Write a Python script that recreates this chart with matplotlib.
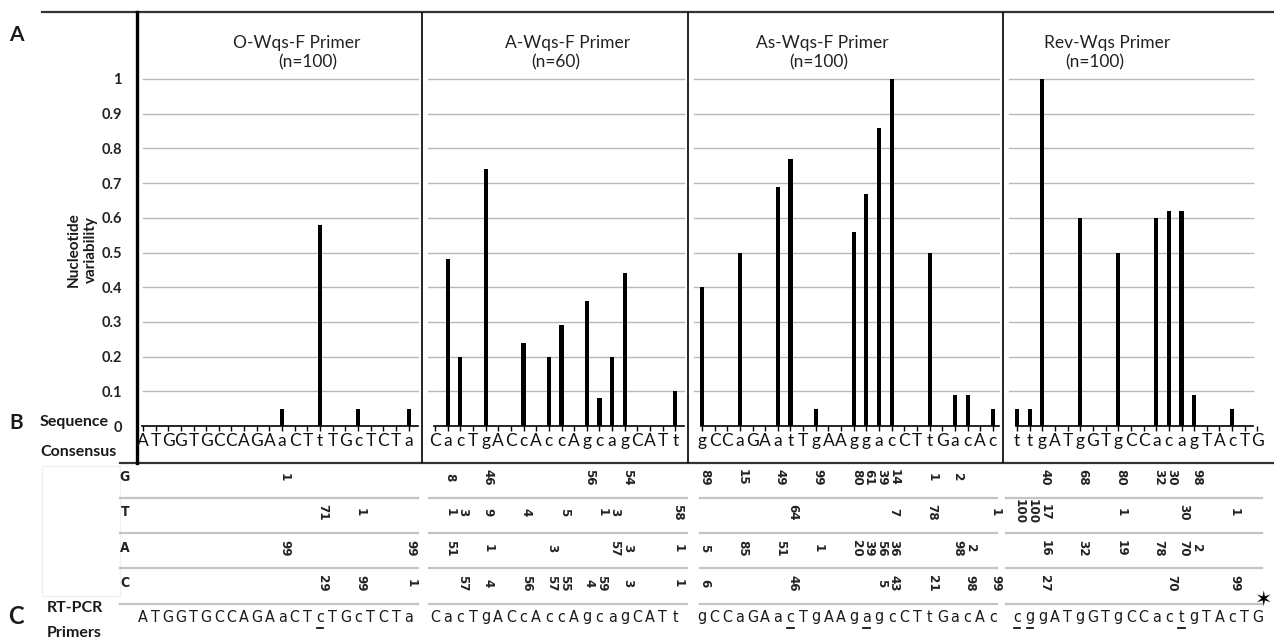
import matplotlib
matplotlib.use("Agg")
import matplotlib.pyplot as plt
from matplotlib import font_manager
from matplotlib.transforms import blended_transform_factory
from matplotlib.patches import Rectangle

# ---------------- data ----------------
panel_names = ["O-Wqs-F Primer", "A-Wqs-F Primer", "As-Wqs-F Primer", "Rev-Wqs Primer"]
panel_n = [100, 60, 100, 100]

consensus = ["ATGGTGCCAGAaCTtTGcTCTa",
             "CacTgACcAccAgcagCATt",
             "gCCaGAatTgAAggacCTtGacAc",
             "ttgATgGTgCCacagTAcTG"]

primers = ["ATGGTGCCAGAaCTcTGcTCTa",
           "CacTgACcAccAgcagCATt",
           "gCCaGAacTgAAgagcCTtGacAc",
           "cggATgGTgCCactgTAcTG"]
primer_underlined = [[14], [], [7, 13], [0, 1, 13]]

var_O = [0, 0, 0, 0, 0, 0, 0, 0, 0, 0, 0, 0.05, 0, 0, 0.58, 0, 0, 0.05, 0, 0, 0, 0.05]
var_A = [0, 0.48, 0.20, 0, 0.74, 0, 0, 0.24, 0, 0.20, 0.29, 0, 0.36, 0.08, 0.20, 0.44, 0, 0, 0, 0.10]
var_As = [0.40, 0, 0, 0.50, 0, 0, 0.69, 0.77, 0, 0.05, 0, 0, 0.56, 0.67, 0.86, 1.00,
          0, 0, 0.50, 0, 0.09, 0.09, 0, 0.05]
var_Rev = [0.05, 0.05, 1.00, 0, 0, 0.60, 0, 0, 0.50, 0, 0, 0.60, 0.62, 0.62, 0.09, 0, 0, 0.05, 0, 0]
variability = [var_O, var_A, var_As, var_Rev]

nucleotides = ["G", "T", "A", "C"]
counts_O = {"G": {12: 1}, "T": {15: 71, 18: 1}, "A": {12: 99, 22: 99}, "C": {15: 29, 18: 99, 22: 1}}
counts_A = {"G": {2: 8, 5: 46, 13: 56, 16: 54},
            "T": {2: 1, 3: 3, 5: 9, 8: 4, 11: 5, 14: 1, 15: 3, 20: 58},
            "A": {2: 51, 5: 1, 10: 3, 15: 57, 16: 3, 20: 1},
            "C": {3: 57, 5: 4, 8: 56, 10: 57, 11: 55, 13: 4, 14: 59, 16: 3, 20: 1}}
counts_As = {"G": {1: 89, 4: 15, 7: 49, 10: 99, 13: 80, 14: 61, 15: 39, 16: 14, 19: 1, 21: 2},
             "T": {8: 64, 16: 7, 19: 78, 24: 1},
             "A": {1: 5, 4: 85, 7: 51, 10: 1, 13: 20, 14: 39, 15: 56, 16: 36, 21: 98, 22: 2},
             "C": {1: 6, 8: 46, 15: 5, 16: 43, 19: 21, 22: 98, 24: 99}}
counts_Rev = {"G": {3: 40, 6: 68, 9: 80, 12: 32, 13: 30, 15: 98},
              "T": {1: 100, 2: 100, 3: 17, 9: 1, 14: 30, 18: 1},
              "A": {3: 16, 6: 32, 9: 19, 12: 78, 14: 70, 15: 2},
              "C": {3: 27, 13: 70, 18: 99}}
counts = [counts_O, counts_A, counts_As, counts_Rev]
y_ticks = [0, 0.1, 0.2, 0.3, 0.4, 0.5, 0.6, 0.7, 0.8, 0.9, 1]
y_ticklabels = ["0", "0.1", "0.2", "0.3", "0.4", "0.5", "0.6", "0.7", "0.8", "0.9", "1"]

# ---------------- fonts ----------------
names = {f.name for f in font_manager.fontManager.ttflist}
MAIN = "Lato" if "Lato" in names else "DejaVu Sans"
if "Liberation Sans Narrow" in names:
    NARROW = dict(family="Liberation Sans Narrow")
else:
    NARROW = dict(family="DejaVu Sans", fontstretch="condensed")
plt.rcParams["font.family"] = [MAIN, "DejaVu Sans"]

# ---------------- layout ----------------
W, H = 1274, 639
UNIT = 12.65          # pixels per nucleotide
X0 = 137              # pixel x of y-axis
Y0 = 426              # pixel y of value 0
PPU = 347             # pixels per 1.0 variability
TOP, BOT = 12, 463

fig = plt.figure(figsize=(W / 100, H / 100), dpi=100)
ov = fig.add_axes([0, 0, 1, 1], zorder=0)
ov.set_xlim(0, W)
ov.set_ylim(H, 0)
ov.axis("off")

ax = fig.add_axes([X0 / W, 1 - BOT / H, (W - X0) / W, (BOT - TOP) / H], zorder=1)
ax.set_facecolor("none")
ax.set_xlim(0, (W - X0) / UNIT)
ax.set_ylim(-(BOT - Y0) / PPU, (Y0 - TOP) / PPU)
for s in ["top", "right", "bottom"]:
    ax.spines[s].set_visible(False)
ax.spines["left"].set_linewidth(2.4)
ax.set_xticks([])
ax.set_yticks(y_ticks)
ax.set_yticklabels(y_ticklabels, fontsize=10.5, color="#222222", fontweight="bold")
ax.tick_params(axis="y", length=0, pad=11)

panel_left = [0, 22.53, 43.56, 68.46]
panel_right = [22.53, 43.56, 68.46, 88.6]
first_off = [0.47, 1.03, 1.10, 1.11]
title_cx = [297, 568, 822, 1107]
n_cx = [308, 556, 819, 1095]

bt = blended_transform_factory(ax.transData, ov.transData)

# separators
for xl in panel_left[1:]:
    ax.axvline(xl, color="black", lw=1.2, zorder=3)

row_y = [477, 512, 548, 583]
sep_y = [498, 533, 568, 604]
sep_px = [(120, 418), (429, 687), (700, 997), (1006, 1262)]

for k in range(4):
    xs = [panel_left[k] + first_off[k] + i for i in range(len(consensus[k]))]
    gl = panel_left[k] + 0.45
    gr = panel_right[k] - 0.35
    for yv in y_ticks[1:]:
        ax.plot([gl, gr], [yv, yv], color="#b8b8b8", lw=1.0, zorder=1)
    # baseline + ticks
    ax.plot([xs[0] - 0.05, gr], [0, 0], color="black", lw=1.2, zorder=2)
    ax.vlines(xs, -5 / PPU, 0, color="black", lw=1.0, zorder=2)
    # bars
    ax.bar(xs, variability[k], width=0.33, color="black", zorder=3)
    # consensus letters
    for x, ch in zip(xs, consensus[k]):
        ax.text(x, -(441 - Y0) / PPU, ch, ha="center", va="center", fontsize=12.5,
                color="#111111")
    # panel title
    ov.text(title_cx[k], 43, panel_names[k], ha="center", va="center",
            fontsize=12.5, color="#222222")
    ov.text(n_cx[k], 62, f"(n={panel_n[k]})", ha="center",
            va="center", fontsize=12.5, color="#222222")
    # table rows
    for yy in sep_y:
        ov.plot(sep_px[k], [yy, yy], color="#c4c4c4", lw=1.6)
    for r, nt in enumerate(nucleotides):
        for pos, val in counts[k][nt].items():
            ov.text(xs[pos - 1] + 0.2, row_y[r], str(val), transform=bt,
                    rotation=-90, ha="center", va="center", fontsize=9.5,
                    fontweight="bold", color="#222222", **NARROW)
    # primer row
    for i, (x, ch) in enumerate(zip(xs, primers[k])):
        ov.text(x, 617, ch, transform=bt, ha="center", va="center", fontsize=11.5,
                color="#1a1a1a", **NARROW)
        if i in primer_underlined[k]:
            ov.plot([x - 0.25, x + 0.25], [628, 628], transform=bt, color="black", lw=1.2)

# row labels
for r, nt in enumerate(nucleotides):
    ov.text(125, row_y[r], nt, ha="center", va="center", fontsize=10,
            fontweight="bold", color="#222222", **NARROW)

# frame lines
ov.plot([42, W], [12, 12], color="#333333", lw=1.6)
ov.plot([120, W], [463, 463], color="#333333", lw=1.6)
ov.add_patch(Rectangle((42, 466), 78, 130, fill=False, edgecolor="#f0f0f0", lw=1))

# section labels
ov.text(16, 35, "A", fontsize=15, fontweight="bold", ha="center", va="center", color="#1a1a1a")
ov.text(16, 423, "B", fontsize=15, fontweight="bold", ha="center", va="center", color="#1a1a1a")
ov.text(16, 617, "C", fontsize=17, fontweight="bold", ha="center", va="center", color="#1a1a1a")
ov.text(40, 422, "Sequence", fontsize=11.5, fontweight="bold", ha="left", va="center", color="#1a1a1a")
ov.text(40, 452, "Consensus", fontsize=11.5, fontweight="bold", ha="left", va="center", color="#1a1a1a")
ov.text(47, 608, "RT-PCR", fontsize=11.5, fontweight="bold", ha="left", va="center", color="#1a1a1a")
ov.text(47, 633, "Primers", fontsize=11.5, fontweight="bold", ha="left", va="center", color="#1a1a1a")
ov.text(82, 250, "Nucleotide\nvariability", rotation=90, fontsize=11, fontweight="bold",
        ha="center", va="center", color="#1a1a1a", linespacing=1.3)
ov.text(1263, 600, "\u2736", fontsize=15, ha="center", va="center", color="black",
        family="DejaVu Sans")

fig.savefig("out.png", dpi=100)
